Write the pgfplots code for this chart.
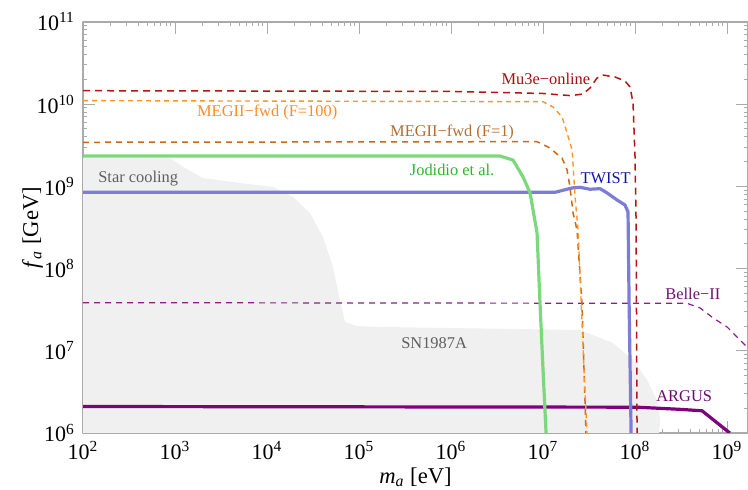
\documentclass[border=0pt]{standalone}
\usepackage{fontspec}
\setmainfont{Liberation Serif}
\usepackage{pgfplots}
\pgfplotsset{compat=1.18}
\definecolor{gfill}{RGB}{240,240,240}
\definecolor{gtext}{RGB}{95,95,95}
\definecolor{frame}{RGB}{170,170,170}
\definecolor{mu3e}{RGB}{180,20,20}
\definecolor{mu3etxt}{RGB}{165,15,15}
\definecolor{meghun}{RGB}{255,150,40}
\definecolor{meghuntxt}{RGB}{255,140,40}
\definecolor{megone}{RGB}{205,105,20}
\definecolor{megonetxt}{RGB}{180,110,50}
\definecolor{jod}{RGB}{125,215,125}
\definecolor{jodtxt}{RGB}{40,185,40}
\definecolor{twist}{RGB}{125,125,215}
\definecolor{twisttxt}{RGB}{20,20,170}
\definecolor{belle}{RGB}{140,30,140}
\definecolor{belletxt}{RGB}{110,20,110}
\definecolor{argus}{RGB}{125,0,125}
\definecolor{argustxt}{RGB}{110,10,110}
\begin{document}
\begin{tikzpicture}
\useasboundingbox (0,0) rectangle (374pt,245pt);
\begin{axis}[
  at={(41.5pt,28.5pt)}, anchor=south west,
  width=332.5pt, height=205.5pt, scale only axis,
  xmode=log, ymode=log,
  xmin=1e2, xmax=1.69e9, ymin=1e6, ymax=1e11,
  axis line style={frame, line width=0.6pt},
  every tick/.style={frame, line width=0.5pt},
  major tick length=6pt, minor tick length=2.2pt,
  tick align=inside,
  xtick={1e2,1e3,1e4,1e5,1e6,1e7,1e8,1e9},
  xticklabels={10\textsuperscript{2},10\textsuperscript{3},10\textsuperscript{4},10\textsuperscript{5},10\textsuperscript{6},10\textsuperscript{7},10\textsuperscript{8},10\textsuperscript{9}},
  ytick={1e6,1e7,1e8,1e9,1e10,1e11},
  yticklabels={10\textsuperscript{6},10\textsuperscript{7},10\textsuperscript{8},10\textsuperscript{9},10\textsuperscript{10},10\textsuperscript{11}},
  tick label style={font=\fontsize{11}{12}\selectfont},
  xticklabel style={yshift=-0.5pt},
  yticklabel style={xshift=-0.5pt},
  xlabel={\textit{m}\textsubscript{\textit{a}} [eV]},
  ylabel={\textit{f}\textsubscript{\textit{a}} [GeV]},
  label style={font=\fontsize{11.3}{13}\selectfont},
  xlabel style={at={(axis description cs:0.5,0)}, anchor=base, yshift=-25.3pt},
  ylabel style={at={(axis description cs:-0.076,0.5)}, anchor=center},
  line join=round,
]
% star cooling + SN1987A excluded region
\addplot[fill=gfill, draw=none] coordinates {
(1e2,2.21e9) (8.83e2,2.21e9) (1.285e3,1.675e9) (2.01e3,1.265e9) (5.09e3,1.099e9)
(1.161e4,9.84e8) (1.919e4,7.43e8) (2.93e4,4.74e8) (4.06e4,2.42e8) (5.21e4,1.045e8)
(6.21e4,4.15e7) (7.05e4,2.24e7) (9.51e4,2.00e7) (1.69e5,1.95e7) (2.52e7,1.79e7)
(5.77e7,1.245e7) (9.51e7,7.73e6) (1.349e8,4.42e6) (1.734e8,2.52e6) (1.871e8,1.44e6)
(1.82e8,1e6) (1e2,1e6)} -- cycle;
% ARGUS
\addplot[argus, line width=1.6pt] coordinates {
(1e2,2.10e6) (1.052e8,2.06e6) (3.08e8,1.94e6) (5.35e8,1.862e6) (1.072e9,1e6)};
% Belle-II
\addplot[belle, line width=0.6pt, dash pattern=on 3pt off 2.5pt] coordinates {
(1e2,3.85e7) (3.67e8,3.78e7) (5.09e8,3.32e7) (7.05e8,2.51e7) (1e9,1.95e7)
(1.285e9,1.472e7) (1.69e9,1.081e7)};
% TWIST
\addplot[twist, line width=1.6pt] coordinates {
(1e2,8.47e8) (1.349e7,8.47e8) (2.07e7,9.57e8) (2.52e7,9.75e8) (3.24e7,9.23e8)
(4.17e7,9.38e8) (4.97e7,8.32e8) (6.37e7,6.84e8) (7.78e7,5.94e8) (8.39e7,4.89e8)
(8.61e7,4.15e7) (9.06e7,1e6)};
% Jodidio et al.
\addplot[jod, line width=1.6pt] coordinates {
(1e2,2.34e9) (3.41e6,2.34e9) (4.72e6,2.09e9) (6.07e6,1.30e9) (7.23e6,8.32e8)
(8.61e6,2.71e8) (9.27e6,3.82e7) (1.0e7,5.83e6) (1.079e7,1e6)};
% MEGII-fwd (F=1)
\addplot[megone, line width=0.75pt, dash pattern=on 3pt off 2.5pt] coordinates {
(1e2,3.44e9) (8.61e6,3.50e9) (1.191e7,2.93e9) (1.455e7,2.41e9) (1.611e7,2.21e9)
(1.824e7,1.585e9) (1.963e7,9.84e8) (2.12e7,4.74e8) (2.34e7,2.95e8) (2.65e7,3.82e7)
(2.93e7,1e6)};
% MEGII-fwd (F=100)
\addplot[meghun, line width=0.7pt, dash pattern=on 2.5pt off 2pt] coordinates {
(1e2,1.104e10) (1e7,1.072e10) (1.285e7,9.25e9) (1.611e7,6.98e9) (1.824e7,4.47e9)
(2.07e7,2.77e9) (2.23e7,7.43e8) (2.40e7,2.95e8) (2.59e7,4.15e7) (2.79e7,5.83e6)
(3.01e7,1e6)};
% Mu3e-online
\addplot[mu3e, line width=0.75pt, dash pattern=on 3.5pt off 2.5pt] coordinates {
(1e2,1.459e10) (1e6,1.429e10) (1e7,1.349e10) (2.0e7,1.27e10) (2.72e7,1.330e10)
(3.24e7,1.574e10) (3.86e7,2.08e10) (4.49e7,2.26e10) (6.07e7,2.14e10) (7.78e7,1.914e10)
(8.83e7,1.618e10) (9.51e7,1.035e10) (1e8,2.28e9) (1.026e8,3.90e8) (1.052e8,1e6)};
% labels
\begin{scope}[font=\fontsize{8.2}{10}\selectfont]
\node[mu3etxt] at (rel axis cs:0.696,0.861) {Mu3e−online};
\node[meghuntxt] at (rel axis cs:0.277,0.779) {MEGII−fwd (F=100)};
\node[megonetxt] at (rel axis cs:0.555,0.730) {MEGII−fwd (F=1)};
\node[jodtxt] at (rel axis cs:0.555,0.640) {Jodidio et al.};
\node[twisttxt] at (rel axis cs:0.786,0.620) {TWIST};
\node[belletxt] at (rel axis cs:0.917,0.338) {Belle−II};
\node[argustxt] at (rel axis cs:0.904,0.090) {ARGUS};
\node[gtext] at (rel axis cs:0.083,0.620) {Star cooling};
\node[gtext] at (rel axis cs:0.528,0.219) {SN1987A};
\end{scope}
\end{axis}
\end{tikzpicture}
\end{document}
